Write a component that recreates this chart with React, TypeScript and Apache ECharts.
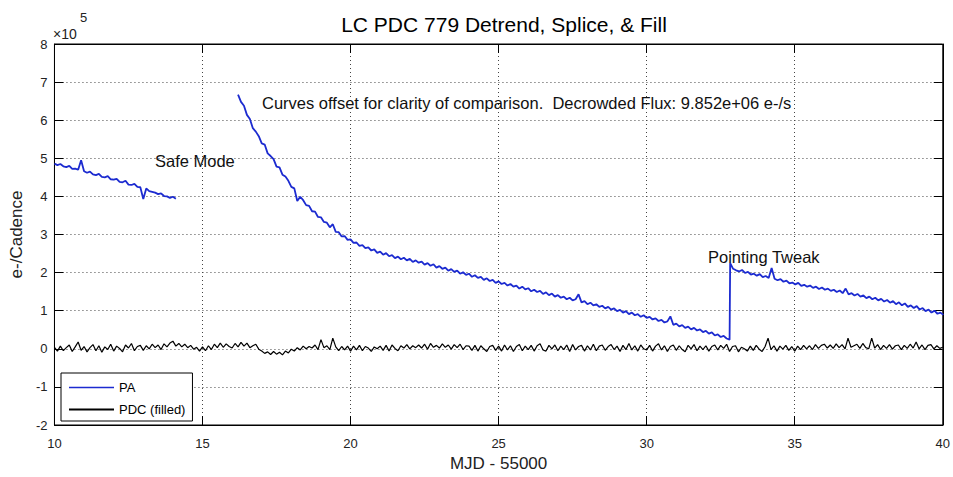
import React, { useEffect, useRef } from "react";
import * as echarts from "echarts";

// ---- Data (flux values in units of 10^5 e-/cadence) ----
const TITLE = "LC PDC 779 Detrend, Splice, & Fill";
const X_NAME = "MJD - 55000";
const Y_NAME = "e-/Cadence";
const Y_EXPONENT = "5";
const NOTE = "Curves offset for clarity of comparison.  Decrowded Flux: 9.852e+06 e-/s";
const SAFE_MODE_LABEL = "Safe Mode";
const TWEAK_LABEL = "Pointing Tweak";
const SERIES_NAMES = ["PA", "PDC (filled)"];

const X_MIN = 10;
const X_MAX = 40;
const X_STEP = 5;
const Y_MIN = -2;
const Y_MAX = 8;
const Y_STEP = 1;

const CADENCE = 0.1; // days between plotted samples

// PA flux, before safe mode
const PA_SEG1_START = 10.0;
const PA_SEG1 = [
  4.86, 4.82, 4.85, 4.79, 4.77, 4.8, 4.72, 4.73, 4.7, 4.95,
  4.66, 4.62, 4.65, 4.58, 4.56, 4.59, 4.51, 4.5, 4.53, 4.45,
  4.44, 4.46, 4.38, 4.37, 4.41, 4.31, 4.3, 4.33, 4.25, 4.24,
  3.93, 4.21, 4.14, 4.12, 4.1, 4.06, 4.08, 4.01, 4.0, 3.96,
  3.99, 3.94,
];

// PA flux, after safe mode until the pointing tweak
const PA_SEG2_START = 16.2;
const PA_SEG2 = [
  6.67, 6.48, 6.38, 6.14, 6.03, 5.79, 5.7, 5.58, 5.39, 5.36,
  5.13, 5.06, 4.98, 4.78, 4.76, 4.57, 4.52, 4.41, 4.25, 4.21,
  3.88, 3.99, 3.9, 3.77, 3.75, 3.61, 3.6, 3.46, 3.45, 3.33,
  3.31, 3.19, 3.27, 3.07, 3.06, 2.95, 2.96, 2.86, 2.87, 2.78,
  2.79, 2.7, 2.72, 2.64, 2.66, 2.58, 2.61, 2.52, 2.55, 2.47,
  2.51, 2.43, 2.46, 2.38, 2.42, 2.35, 2.39, 2.32, 2.36, 2.28,
  2.32, 2.26, 2.29, 2.21, 2.25, 2.18, 2.22, 2.13, 2.17, 2.1,
  2.13, 2.05, 2.09, 2.02, 2.05, 1.97, 2.01, 1.94, 1.97, 1.89,
  1.93, 1.86, 1.89, 1.81, 1.85, 1.78, 1.81, 1.73, 1.77, 1.7,
  1.73, 1.66, 1.7, 1.63, 1.66, 1.58, 1.63, 1.56, 1.59, 1.51,
  1.55, 1.49, 1.52, 1.44, 1.48, 1.41, 1.45, 1.37, 1.41, 1.34,
  1.37, 1.3, 1.34, 1.27, 1.3, 1.43, 1.22, 1.25, 1.17, 1.21,
  1.14, 1.17, 1.1, 1.13, 1.06, 1.1, 1.03, 1.06, 0.99, 1.02,
  0.95, 0.99, 0.91, 0.95, 0.88, 0.91, 0.84, 0.88, 0.81, 0.84,
  0.77, 0.8, 0.73, 0.76, 0.69, 0.72, 0.85, 0.63, 0.66, 0.59,
  0.62, 0.55, 0.58, 0.51, 0.55, 0.48, 0.51, 0.44, 0.47, 0.4,
  0.43, 0.35, 0.38, 0.31, 0.34, 0.27, 0.24,
];

// PA flux, after the pointing tweak
const PA_SEG3_START = 32.82;
const PA_SEG3 = [
  2.25, 2.1, 2.06, 2.03, 2.07, 1.99, 2.02, 1.95, 1.97, 1.92,
  1.96, 1.88, 1.91, 1.86, 2.12, 1.84, 1.8, 1.83, 1.76, 1.79,
  1.72, 1.74, 1.69, 1.73, 1.65, 1.68, 1.63, 1.66, 1.6, 1.63,
  1.57, 1.61, 1.55, 1.58, 1.52, 1.55, 1.49, 1.53, 1.46, 1.58,
  1.43, 1.46, 1.4, 1.44, 1.37, 1.4, 1.33, 1.37, 1.3, 1.34,
  1.27, 1.31, 1.24, 1.28, 1.21, 1.25, 1.17, 1.22, 1.14, 1.19,
  1.1, 1.14, 1.07, 1.12, 1.03, 1.07, 0.99, 1.03, 0.95, 1.0,
  0.92, 0.95, 0.89,
];

// PDC flux (filled), 10.0 .. 40.0
const PDC_START = 10.0;
const PDC = [
  0.04, -0.06, 0.07, -0.05, 0.03, 0.1, -0.07, 0.05, 0.18, -0.04,
  0.06, -0.08, 0.03, 0.11, -0.05, 0.08, -0.09, 0.05, -0.02, 0.12,
  -0.06, 0.07, 0.01, -0.08, 0.1, 0.02, 0.14, -0.05, 0.06, 0.09,
  -0.04, 0.08, 0.0, 0.12, 0.03, 0.1, -0.02, 0.13, 0.05, 0.15,
  0.2, 0.07, 0.14, 0.05, 0.12, 0.03, 0.09, -0.01, 0.04, -0.06,
  0.05, -0.05, 0.08, -0.02, 0.12, 0.03, 0.15, 0.04, 0.13, 0.06,
  0.02, 0.14, 0.05, 0.17, 0.07, 0.15, 0.03, 0.08, 0.12, -0.01,
  -0.06, -0.12, -0.08, -0.15, -0.07, -0.14, -0.09, -0.16, -0.06, -0.11,
  -0.01, -0.06, 0.03, -0.03, 0.07, 0.0, 0.06, 0.02, 0.1, -0.02,
  0.24, 0.03, 0.08, -0.02, 0.28, 0.05, -0.05, 0.06, -0.03, 0.07,
  -0.06, 0.07, -0.03, 0.09, -0.05, 0.06, 0.02, -0.07, 0.05, 0.0,
  0.07, -0.04, 0.09, -0.06, 0.1, 0.01, -0.05, 0.08, 0.02, 0.11,
  0.0, 0.08, 0.03, 0.1, 0.02, 0.12, -0.01, 0.14, 0.04, 0.09,
  0.02, 0.13, 0.04, 0.1, -0.01, 0.11, 0.03, 0.12, -0.02, 0.08,
  0.07, -0.04, 0.09, -0.06, 0.08, 0.0, -0.07, 0.06, 0.09, -0.04,
  0.07, -0.06, 0.1, -0.03, 0.08, -0.07, 0.06, 0.11, -0.05, 0.07,
  -0.02, 0.09, -0.06, 0.08, 0.13, -0.03, -0.06, 0.09, 0.0, 0.1,
  -0.05, 0.07, -0.02, 0.1, -0.07, 0.11, -0.03, 0.06, 0.09, -0.06,
  0.08, -0.03, 0.12, -0.05, 0.07, 0.1, -0.04, 0.06, 0.11, -0.02,
  0.07, -0.07, 0.09, -0.02, 0.14, -0.03, 0.08, -0.06, 0.1, 0.0,
  -0.03, 0.09, -0.06, 0.07, 0.13, -0.03, 0.08, -0.07, 0.06, 0.1,
  -0.04, 0.08, -0.02, -0.08, 0.09, 0.0, 0.11, -0.05, 0.07, -0.02,
  0.08, -0.06, 0.06, 0.1, -0.03, 0.09, 0.01, 0.12, -0.07, 0.06,
  0.08, -0.08, 0.04, 0.0, -0.06, 0.07, -0.04, 0.09, -0.01, -0.07,
  0.06, 0.28, -0.02, 0.08, -0.06, 0.07, -0.01, 0.09, -0.04, 0.06,
  -0.06, 0.07, -0.02, 0.09, 0.0, 0.08, -0.02, 0.11, 0.01, 0.09,
  0.12, 0.02, 0.1, 0.01, 0.13, 0.03, 0.11, 0.0, 0.28, 0.04,
  0.08, 0.12, 0.01, 0.14, 0.03, 0.0, 0.28, 0.02, 0.11, -0.02,
  0.09, 0.01, 0.11, -0.01, 0.08, 0.1, -0.02, 0.09, 0.01, 0.12,
  0.02, 0.18, 0.0, 0.1, -0.02, 0.09, 0.11, 0.0, 0.08, 0.01,
  0.04,
];

const FONT = "'Liberation Sans', Arial, Helvetica, sans-serif";
const PA_COLOR = "#1c2bd0";
const PDC_COLOR = "#000000";

function toPairs(start: number, values: number[]): (number | null)[][] {
  return values.map((v, i) => [Math.round((start + i * CADENCE) * 1000) / 1000, v]);
}

export default function App() {
  const ref = useRef<HTMLDivElement>(null);

  useEffect(() => {
    if (!ref.current) return;
    const chart = echarts.init(ref.current, null, { renderer: "svg" });

    const paData = [
      ...toPairs(PA_SEG1_START, PA_SEG1),
      [15, null],
      ...toPairs(PA_SEG2_START, PA_SEG2),
      ...toPairs(PA_SEG3_START, PA_SEG3),
    ];
    const pdcData = toPairs(PDC_START, PDC);

    const tickStyle = { color: "#000", width: 1 };
    const dotted = { color: "#444", type: [1, 3] as number[], width: 1 };

    chart.setOption({
      animation: false,
      backgroundColor: "#ffffff",
      textStyle: { fontFamily: FONT },
      title: {
        text: TITLE,
        left: 499,
        top: 9,
        textAlign: "center",
        textStyle: { fontFamily: FONT, fontSize: 21, fontWeight: "normal", color: "#000" },
      },
      grid: {
        left: 54,
        right: 5,
        top: 44,
        bottom: 48,
        show: true,
        borderColor: "#000",
        borderWidth: 1,
        backgroundColor: "#fff",
      },
      legend: {
        orient: "vertical",
        left: 61,
        top: 373,
        backgroundColor: "#fff",
        borderColor: "#000",
        borderWidth: 1,
        borderRadius: 0,
        padding: [8, 7, 5, 8],
        itemGap: 9,
        itemWidth: 45,
        itemHeight: 14,
        textStyle: { fontFamily: FONT, fontSize: 13, color: "#000" },
        data: [
          { name: SERIES_NAMES[0], icon: "path://M0 0H45V1.3H0Z" },
          { name: SERIES_NAMES[1], icon: "path://M0 0H45V2H0Z" },
        ],
      },
      xAxis: [
        {
          type: "value",
          position: "bottom",
          min: X_MIN,
          max: X_MAX,
          interval: X_STEP,
          name: X_NAME,
          nameLocation: "middle",
          nameGap: 30,
          nameTextStyle: { fontFamily: FONT, fontSize: 17, color: "#222" },
          axisLine: { show: true, onZero: false, lineStyle: tickStyle },
          axisTick: { show: true, inside: true, length: 9, lineStyle: tickStyle },
          axisLabel: { fontFamily: FONT, fontSize: 13, color: "#222", margin: 12 },
          splitLine: { show: true, lineStyle: dotted },
        },
        {
          type: "value",
          position: "top",
          min: X_MIN,
          max: X_MAX,
          interval: X_STEP,
          axisLine: { show: true, onZero: false, lineStyle: tickStyle },
          axisTick: { show: true, inside: true, length: 9, lineStyle: tickStyle },
          axisLabel: { show: false },
          splitLine: { show: false },
        },
      ],
      yAxis: [
        {
          type: "value",
          position: "left",
          min: Y_MIN,
          max: Y_MAX,
          interval: Y_STEP,
          name: Y_NAME,
          nameLocation: "middle",
          nameRotate: 90,
          nameGap: 28,
          nameTextStyle: { fontFamily: FONT, fontSize: 17, color: "#222" },
          axisLine: { show: true, onZero: false, lineStyle: tickStyle },
          axisTick: { show: true, inside: true, length: 9, lineStyle: tickStyle },
          axisLabel: { fontFamily: FONT, fontSize: 13, color: "#222", margin: 7 },
          splitLine: { show: true, lineStyle: dotted },
        },
        {
          type: "value",
          position: "right",
          min: Y_MIN,
          max: Y_MAX,
          interval: Y_STEP,
          axisLine: { show: true, onZero: false, lineStyle: tickStyle },
          axisTick: { show: true, inside: true, length: 9, lineStyle: tickStyle },
          axisLabel: { show: false },
          splitLine: { show: false },
        },
      ],
      series: [
        {
          name: SERIES_NAMES[0],
          type: "line",
          xAxisIndex: 0,
          yAxisIndex: 0,
          data: paData,
          symbol: "none",
          connectNulls: false,
          lineStyle: { color: PA_COLOR, width: 1.8 },
          itemStyle: { color: PA_COLOR },
          emphasis: { disabled: true },
        },
        {
          name: SERIES_NAMES[1],
          type: "line",
          xAxisIndex: 0,
          yAxisIndex: 0,
          data: pdcData,
          symbol: "none",
          lineStyle: { color: PDC_COLOR, width: 1.2 },
          itemStyle: { color: PDC_COLOR },
          emphasis: { disabled: true },
        },
      ],
      graphic: [
        {
          type: "text",
          x: 53,
          y: 34,
          style: { text: "\u00d710", fontFamily: FONT, fontSize: 14, fill: "#222", verticalAlign: "middle", textVerticalAlign: "middle" },
        },
        {
          type: "text",
          x: 80,
          y: 17,
          style: { text: Y_EXPONENT, fontFamily: FONT, fontSize: 13, fill: "#222", verticalAlign: "middle", textVerticalAlign: "middle" },
        },
        {
          type: "text",
          x: 262,
          y: 103,
          z: 10,
          style: { text: NOTE, fontFamily: FONT, fontSize: 16.5, fill: "#111", verticalAlign: "middle", textVerticalAlign: "middle" },
        },
        {
          type: "text",
          x: 155,
          y: 161,
          z: 10,
          style: { text: SAFE_MODE_LABEL, fontFamily: FONT, fontSize: 16.5, fill: "#111", verticalAlign: "middle", textVerticalAlign: "middle" },
        },
        {
          type: "text",
          x: 708,
          y: 257,
          z: 10,
          style: { text: TWEAK_LABEL, fontFamily: FONT, fontSize: 16.5, fill: "#111", verticalAlign: "middle", textVerticalAlign: "middle" },
        },
      ],
    });

    return () => {
      chart.dispose();
    };
  }, []);

  return (
    <div
      ref={ref}
      style={{ position: "absolute", left: 0, top: 0, width: 953, height: 477, background: "#fff" }}
    />
  );
}
